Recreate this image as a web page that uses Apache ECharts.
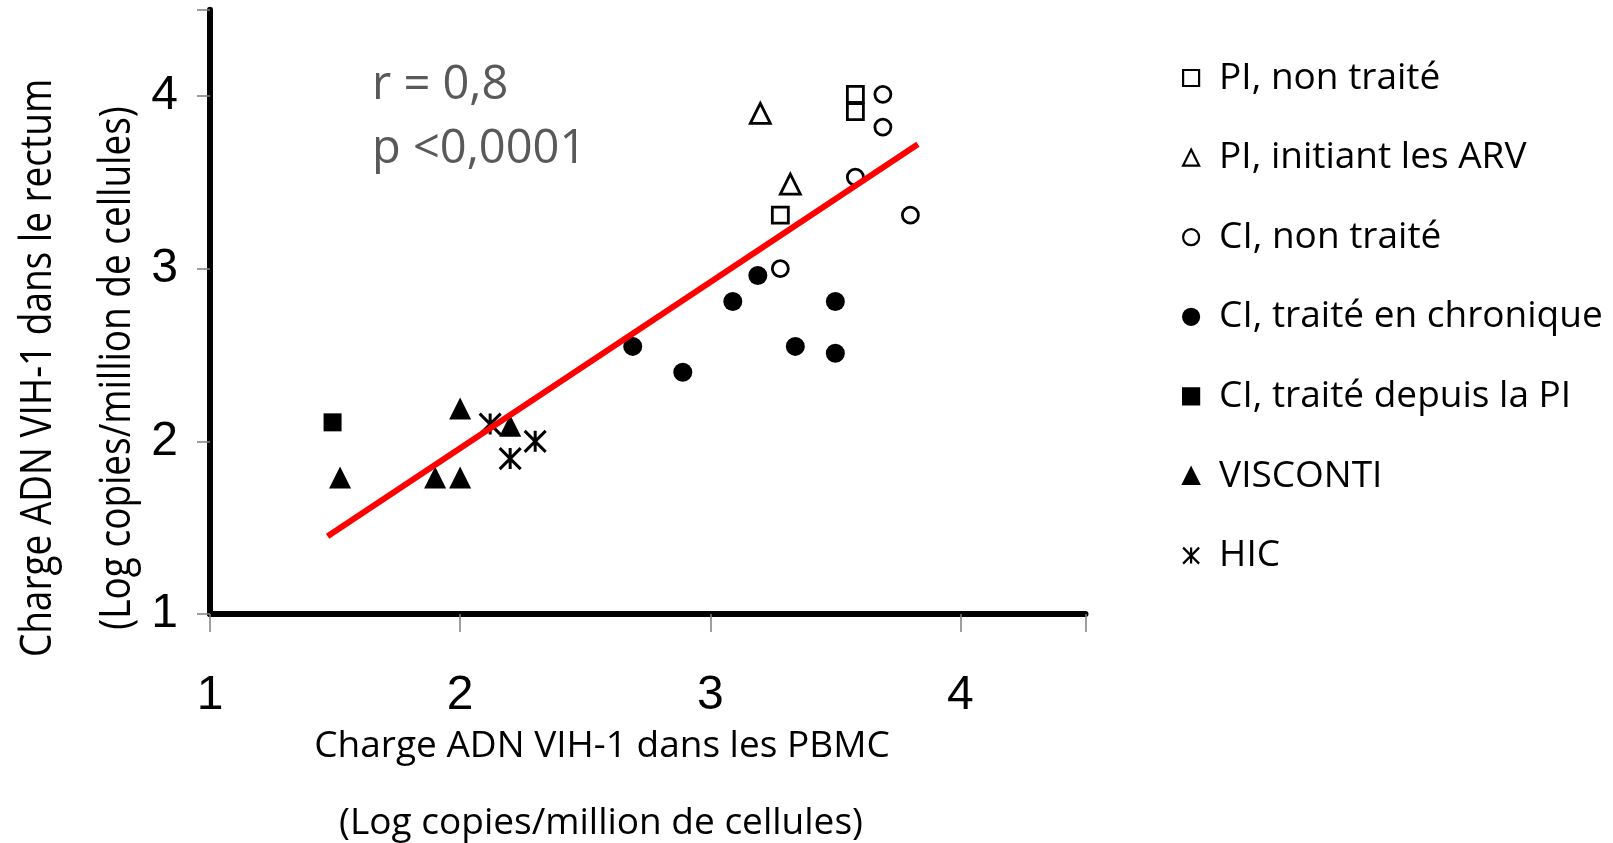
<!DOCTYPE html>
<html>
<head>
<meta charset="utf-8">
<script src="https://cdn.jsdelivr.net/npm/echarts@6/dist/echarts.min.js"></script>
<style>
  html, body { margin: 0; padding: 0; background: #fff; }
  #chart { width: 1613px; height: 843px; }
</style>
</head>
<body>
<div id="chart"></div>
<script>
// Axis ticks
const xTicks = [1, 2, 3, 4];
const yTicks = [1, 2, 3, 4];

// Groups: [PBMC log copies, rectum log copies]
const piNonTraite = [[3.58, 4.01], [3.58, 3.91], [3.28, 3.31]];
const piInitiantArv = [[3.20, 3.90], [3.32, 3.49]];
const ciNonTraite = [[3.69, 4.01], [3.69, 3.82], [3.58, 3.53], [3.80, 3.31], [3.28, 3.00]];
const ciTraiteChronique = [[3.19, 2.96], [3.09, 2.81], [3.50, 2.81], [3.34, 2.55], [3.50, 2.51], [2.69, 2.55], [2.89, 2.40]];
const ciTraiteDepuisPi = [[1.49, 2.11]];
const visconti = [[1.52, 1.79], [1.90, 1.79], [2.00, 1.79], [2.00, 2.19], [2.20, 2.09]];
const hic = [[2.12, 2.10], [2.20, 1.90], [2.30, 2.00]];

// Regression line end points
const fitLine = [[1.47, 1.45], [3.83, 3.72]];

const groupNames = [
  'PI, non traité',
  'PI, initiant les ARV',
  'CI, non traité',
  'CI, traité en chronique',
  'CI, traité depuis la PI',
  'VISCONTI',
  'HIC'
];

const statLines = ['r = 0,8', 'p <0,0001'];
const xTitle = ['Charge ADN VIH-1 dans les PBMC', '(Log copies/million de cellules)'];
const yTitle = ['Charge ADN VIH-1 dans le rectum', '(Log copies/million de cellules)'];

const ASTERISK = 'path://M10,0L10,20M0,0L20,20M0,20L20,0';
const openStyle = { color: '#fff', borderColor: '#000', borderWidth: 2.8, opacity: 1 };
const filledStyle = { color: '#000', borderColor: '#000', borderWidth: 0, opacity: 1 };
const starStyle = { color: 'rgba(0,0,0,0)', borderColor: '#000', borderWidth: 3, opacity: 1 };

function scatter(name, data, symbol, size, style) {
  return { type: 'scatter', name, data, symbol, symbolSize: size, itemStyle: style, z: 2, emphasis: { disabled: true } };
}

const chart = echarts.init(document.getElementById('chart'), null, { renderer: 'canvas' });

const tickFont = 'Liberation Sans, Arial, sans-serif';
const textFont = 'Open Sans, sans-serif';

chart.setOption({
  animation: false,
  backgroundColor: '#fff',
  grid: { left: 210, right: 527.5, top: 9.7, bottom: 229, containLabel: false },
  xAxis: {
    type: 'value', min: 1, max: 4.5, interval: 1,
    axisLine: { show: true, onZero: false, lineStyle: { color: '#000', width: 6 } },
    axisTick: { show: true, inside: false, length: 18, lineStyle: { color: '#808080', width: 1.5 } },
    axisLabel: {
      margin: 58, fontFamily: tickFont, fontSize: 48, color: '#000',
      formatter: v => (xTicks.indexOf(v) >= 0 ? String(v) : '')
    },
    splitLine: { show: false }
  },
  yAxis: {
    type: 'value', min: 1, max: 4.5, interval: 1,
    axisLine: { show: true, onZero: false, lineStyle: { color: '#000', width: 6 } },
    axisTick: { show: true, inside: false, length: 13, lineStyle: { color: '#808080', width: 1.5 } },
    axisLabel: {
      margin: 32, fontFamily: tickFont, fontSize: 48, color: '#000',
      formatter: v => (yTicks.indexOf(v) >= 0 ? String(v) : '')
    },
    splitLine: { show: false }
  },
  legend: {
    orient: 'vertical', left: 1177, top: 53, itemGap: 39.6,
    itemWidth: 16, itemHeight: 16, selectedMode: false,
    data: groupNames,
    itemStyle: { borderWidth: 2.2, opacity: 1 },
    textStyle: { fontFamily: textFont, fontSize: 37, color: '#000', lineHeight: 40, padding: [0, 0, 0, 15] }
  },
  graphic: [
    { type: 'text', x: 372, y: 86, style: { text: statLines[0], font: '47px "Open Sans"', fill: '#595959', textVerticalAlign: 'middle' } },
    { type: 'text', x: 372, y: 150, style: { text: statLines[1], font: '47px "Open Sans"', fill: '#595959', textVerticalAlign: 'middle' } },
    { type: 'text', x: 602, y: 746, style: { text: xTitle[0], font: '37px "Open Sans"', fill: '#000', textAlign: 'center', textVerticalAlign: 'middle' } },
    { type: 'text', x: 601, y: 823, style: { text: xTitle[1], font: '37px "Open Sans"', fill: '#000', textAlign: 'center', textVerticalAlign: 'middle' } },
    { type: 'text', x: 38, y: 368, rotation: Math.PI / 2, scaleX: 0.84, style: { text: yTitle[0], font: '44px "Open Sans"', fill: '#000', textAlign: 'center', textVerticalAlign: 'middle' } },
    { type: 'text', x: 117, y: 368, rotation: Math.PI / 2, scaleX: 0.84, style: { text: yTitle[1], font: '44px "Open Sans"', fill: '#000', textAlign: 'center', textVerticalAlign: 'middle' } }
  ],
  series: [
    scatter(groupNames[0], piNonTraite, 'rect', 16, openStyle),
    scatter(groupNames[1], piInitiantArv, 'triangle', 20, openStyle),
    scatter(groupNames[2], ciNonTraite, 'circle', 16, openStyle),
    scatter(groupNames[3], ciTraiteChronique, 'circle', 19, filledStyle),
    scatter(groupNames[4], ciTraiteDepuisPi, 'rect', 18, filledStyle),
    scatter(groupNames[5], visconti, 'triangle', 22, filledStyle),
    scatter(groupNames[6], hic, ASTERISK, 21, starStyle),
    {
      type: 'line', name: 'fit', data: fitLine, symbol: 'none', z: 5,
      lineStyle: { color: '#ff0000', width: 6, cap: 'butt' },
      emphasis: { disabled: true }, silent: true
    }
  ]
});
</script>
</body>
</html>
